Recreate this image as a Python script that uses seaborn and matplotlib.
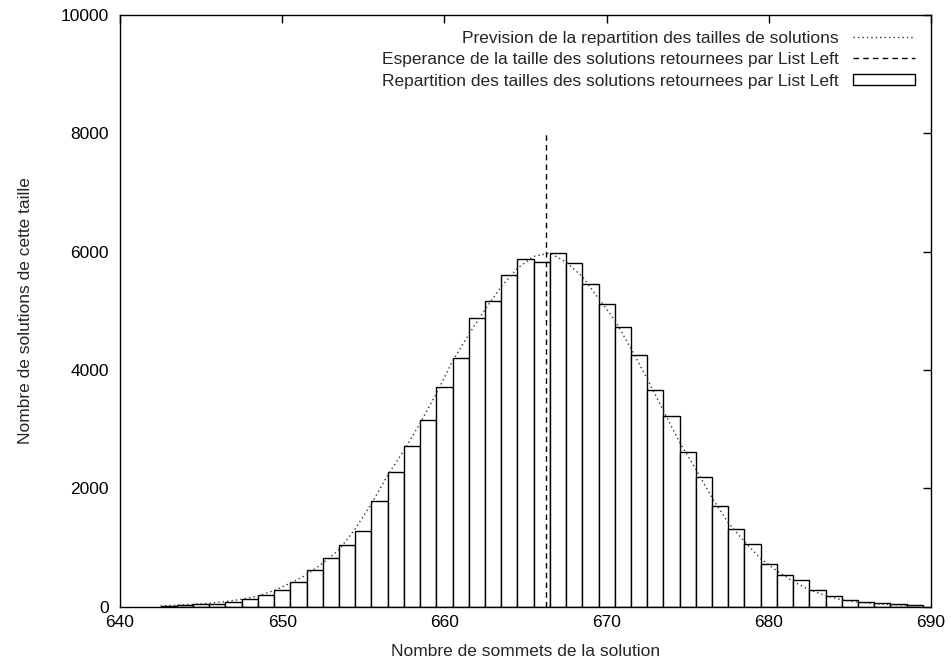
import matplotlib
matplotlib.use("Agg")
import matplotlib.pyplot as plt
from matplotlib.lines import Line2D
from matplotlib.patches import Patch
import numpy as np
import pandas as pd
import seaborn as sns

# Observed distribution of solution sizes returned by List Left
tailles = [643, 644, 645, 646, 647, 648, 649, 650, 651, 652, 653, 654, 655,
           656, 657, 658, 659, 660, 661, 662, 663, 664, 665, 666, 667, 668, 669,
           670, 671, 672, 673, 674, 675, 676, 677, 678, 679, 680, 681, 682, 683,
           684, 685, 686, 687, 688, 689]
nombres = [10, 20, 40, 50, 85, 136, 199, 289, 415, 612, 815, 1048, 1281,
           1791, 2277, 2708, 3150, 3716, 4197, 4883, 5172, 5602, 5880, 5828, 5971, 5801, 5455,
           5121, 4724, 4260, 3660, 3218, 2617, 2199, 1699, 1315, 1060, 720, 533, 448, 282,
           176, 110, 74, 57, 37, 20]

# Predicted distribution of solution sizes
prevision_x = [642.5, 643.5, 644.5, 645.5, 646.5, 647.5, 648.5, 649.5, 650.5, 651.5,
               652.5, 653.5, 654.5, 655.5, 656.5, 657.5, 658.5, 659.5, 660.5, 661.5,
               662.5, 663.5, 664.5, 665.5, 666.5, 667.5, 668.5, 669.5, 670.5, 671.5,
               672.5, 673.5, 674.5, 675.5, 676.5, 677.5, 678.5, 679.5, 680.5, 681.5,
               682.5, 683.5, 684.5, 685.5, 686.5, 687.5, 688.5, 689.5]
prevision_y = [12, 25, 40, 57, 85, 125, 181, 272, 397, 538,
               737, 960, 1315, 1740, 2220, 2640, 3100, 3600, 4150, 4600,
               5020, 5410, 5720, 5920, 5976, 5823, 5580, 5212, 4843, 4362,
               3852, 3314, 2777, 2323, 1842, 1417, 1100, 810, 605, 425,
               284, 187, 114, 74, 51, 34, 23, 15]

# Expected size of the solutions returned by List Left
esperance = 666.26
esperance_haut = 8000

labels = ["Prevision de la repartition des tailles de solutions",
          "Esperance de la taille des solutions retournees par List Left",
          "Repartition des tailles des solutions retournees par List Left"]

sns.set_theme(style="white")
plt.rcParams["font.family"] = ["Liberation Sans", "DejaVu Sans"]
FS = 12.5

fig = plt.figure(figsize=(9.51, 6.66), dpi=100)
ax = fig.add_axes([0.1262, 0.0891, 0.979 - 0.1262, 0.9775 - 0.0891])

df = pd.DataFrame({"taille": tailles, "nombre": nombres})
sns.histplot(data=df, x="taille", weights="nombre", discrete=True, shrink=1.0,
             color="white", edgecolor="black", linewidth=1.0, alpha=1.0, ax=ax)

prev = pd.DataFrame({"x": prevision_x, "y": prevision_y})
sns.lineplot(data=prev, x="x", y="y", color="#333333", linestyle=(0, (1, 2.2)),
             linewidth=1.0, ax=ax)

ax.vlines(esperance, 0, esperance_haut, colors="black", linestyles=(0, (4, 3)),
          linewidth=1.0)

ax.set_xlim(640, 690)
ax.set_ylim(0, 10000)
ax.set_xticks(np.arange(640, 691, 10))
ax.set_yticks(np.arange(0, 10001, 2000))
ax.tick_params(direction="in", length=6, width=1.0, top=True, right=True,
               labelsize=FS, colors="black")
ax.tick_params(axis="y", pad=8)
ax.tick_params(axis="x", pad=6)
for s in ax.spines.values():
    s.set_color("black")
    s.set_linewidth(1.0)
ax.set_xlabel("Nombre de sommets de la solution", fontsize=FS, labelpad=10)
ax.set_ylabel("Nombre de solutions de cette taille", fontsize=FS, labelpad=20)

handles = [Line2D([], [], color="#333333", linestyle=(0, (1, 2.2)), linewidth=1.0),
           Line2D([], [], color="black", linestyle=(0, (4, 3)), linewidth=1.0),
           Patch(facecolor="white", edgecolor="black", linewidth=1.0)]
ax.legend(handles, labels, loc="upper right", markerfirst=False, frameon=False,
          fontsize=FS, handlelength=3.6, handleheight=0.6, labelspacing=0.38,
          handletextpad=0.8, borderaxespad=0.5)

fig.savefig("out.png", dpi=100)
